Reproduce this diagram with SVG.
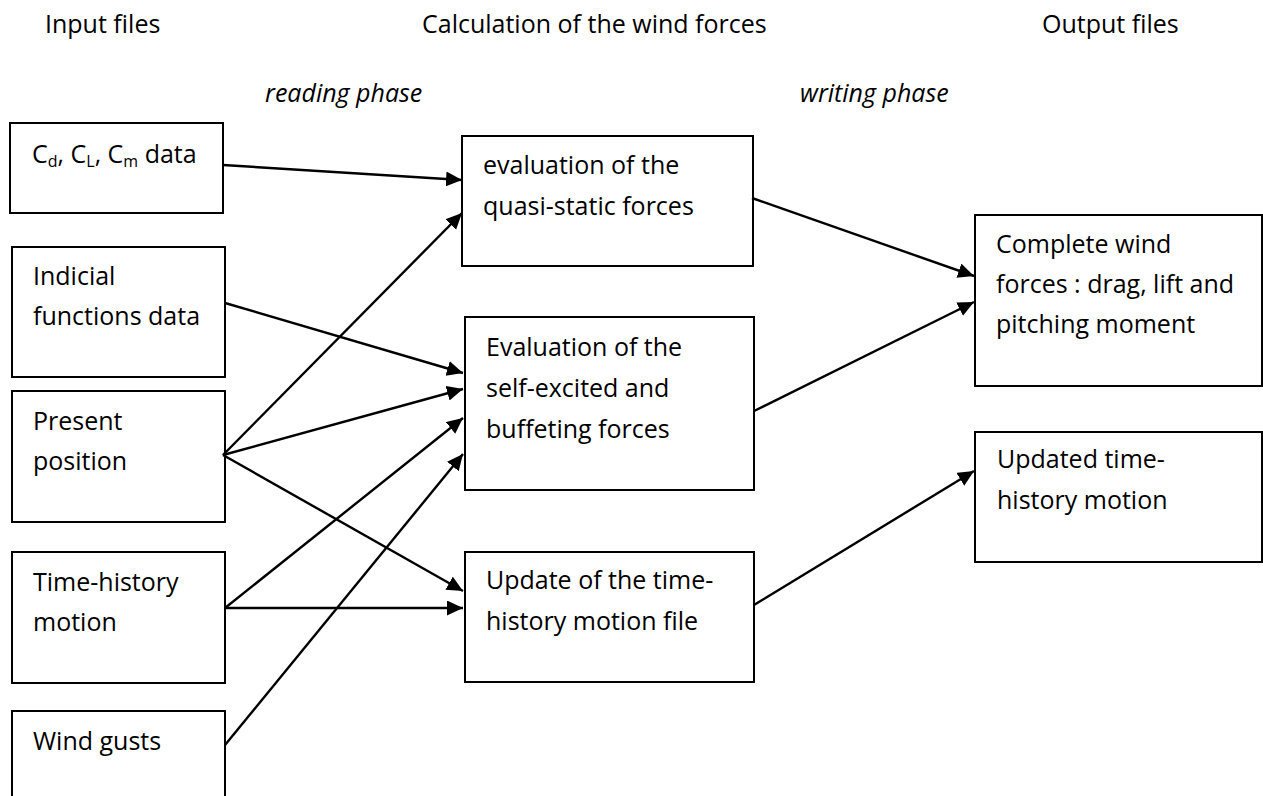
<svg xmlns="http://www.w3.org/2000/svg" width="1263" height="796" viewBox="0 0 1263 796">
<style>
  .box { fill: #ffffff; stroke: #000000; stroke-width: 2; }
  .t { font-family: "Open Sans", "Liberation Sans", sans-serif; font-size: 25px; fill: #000000; }
  .it { font-style: italic; }
  .sub { font-size: 16px; }
  .conn line { stroke: #000000; stroke-width: 2.4; marker-end: url(#arr); }
</style>
<defs>
  <marker id="arr" markerUnits="userSpaceOnUse" markerWidth="18" markerHeight="16" refX="16" refY="7.5" orient="auto">
    <path d="M0,0 L16,7.5 L0,15 z" fill="#000000"/>
  </marker>
</defs>
<rect width="1263" height="796" fill="#ffffff"/>

<g id="headers">
  <text class="t" x="45" y="33">Input files</text>
  <text class="t" x="422" y="33">Calculation of the wind forces</text>
  <text class="t" x="1042" y="33">Output files</text>
  <text class="t it" x="265" y="102">reading phase</text>
  <text class="t it" x="800" y="102">writing phase</text>
</g>

<g id="n-coeff">
  <rect class="box" x="10" y="123" width="213" height="90"/>
  <text class="t" x="32" y="163">C<tspan class="sub" dy="4">d</tspan><tspan dy="-4">, C</tspan><tspan class="sub" dy="4">L</tspan><tspan dy="-4">, C</tspan><tspan class="sub" dy="4">m</tspan><tspan dy="-4"> data</tspan></text>
</g>
<g id="n-indicial">
  <rect class="box" x="12" y="247" width="213" height="130"/>
  <text class="t" x="33" y="285">Indicial</text>
  <text class="t" x="33" y="325">functions data</text>
</g>
<g id="n-present">
  <rect class="box" x="12" y="391" width="213" height="131"/>
  <text class="t" x="33" y="430">Present</text>
  <text class="t" x="33" y="470">position</text>
</g>
<g id="n-timehistory">
  <rect class="box" x="12" y="552" width="213" height="131"/>
  <text class="t" x="33" y="591">Time-history</text>
  <text class="t" x="33" y="631">motion</text>
</g>
<g id="n-wind">
  <rect class="box" x="12" y="711" width="213" height="110"/>
  <text class="t" x="33" y="750">Wind gusts</text>
</g>

<g id="n-quasi">
  <rect class="box" x="462" y="136" width="291" height="130"/>
  <text class="t" x="483" y="174">evaluation of the</text>
  <text class="t" x="483" y="215">quasi-static forces</text>
</g>
<g id="n-self">
  <rect class="box" x="465" y="317" width="289" height="173"/>
  <text class="t" x="486" y="356">Evaluation of the</text>
  <text class="t" x="486" y="397">self-excited and</text>
  <text class="t" x="486" y="438">buffeting forces</text>
</g>
<g id="n-update">
  <rect class="box" x="465" y="552" width="289" height="130"/>
  <text class="t" x="486" y="589">Update of the time-</text>
  <text class="t" x="486" y="630">history motion file</text>
</g>

<g id="n-complete">
  <rect class="box" x="975" y="215" width="287" height="171"/>
  <text class="t" x="996" y="253">Complete wind</text>
  <text class="t" x="996" y="293">forces : drag, lift and</text>
  <text class="t" x="996" y="333">pitching moment</text>
</g>
<g id="n-updated">
  <rect class="box" x="975" y="432" width="287" height="130"/>
  <text class="t" x="997" y="468">Updated time-</text>
  <text class="t" x="997" y="509">history motion</text>
</g>

<g id="connectors" class="conn">
  <line x1="223" y1="165" x2="462" y2="180"/>
  <line x1="223" y1="455" x2="462" y2="213"/>
  <line x1="225" y1="303" x2="463" y2="373"/>
  <line x1="223" y1="455" x2="463" y2="389"/>
  <line x1="225" y1="608" x2="463" y2="418"/>
  <line x1="225" y1="745" x2="463" y2="454"/>
  <line x1="223" y1="455" x2="463" y2="591"/>
  <line x1="225" y1="608" x2="463" y2="608"/>
  <line x1="752" y1="198" x2="974" y2="276"/>
  <line x1="754" y1="411" x2="974" y2="302"/>
  <line x1="754" y1="605" x2="974" y2="471"/>
</g>
</svg>
